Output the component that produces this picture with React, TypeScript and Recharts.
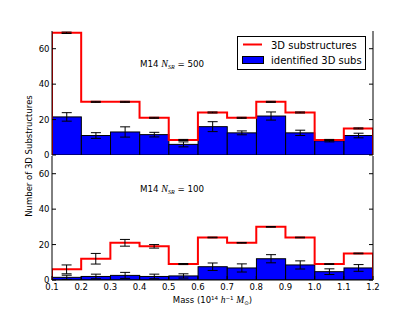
import React from "react";
import { ComposedChart, Bar, Line, ErrorBar, XAxis, YAxis, Legend } from "recharts";

// bins of width 0.1 between 0.1 and 1.2 (10^14 h^-1 Msun)
const binCenters = [0.15, 0.25, 0.35, 0.45, 0.55, 0.65, 0.75, 0.85, 0.95, 1.05, 1.15];
const binEdges = [0.1, 0.2, 0.3, 0.4, 0.5, 0.6, 0.7, 0.8, 0.9, 1.0, 1.1, 1.2];
const yTicks = [0, 20, 40, 60];

// N_SR = 500 panel
const subs500 = [69, 30, 30, 21, 8.5, 24, 21, 30, 24, 8.5, 15];
const subs500Err = [0.4, 0.3, 0.3, 0.3, 0.3, 0.3, 0.3, 0.3, 0.3, 0.3, 0.3];
const ident500 = [21.5, 11, 13, 11.5, 6, 16, 12.5, 22, 12.5, 8, 11];
const ident500Err = [2.4, 1.6, 2.9, 1.3, 1.4, 2.8, 1.1, 2.3, 1.5, 0.6, 1.3];

// N_SR = 100 panel
const subs100 = [6, 12, 21, 19, 9, 24, 21, 30, 24, 9, 15];
const subs100Err = [2.5, 3, 1.9, 1, 0.3, 0.2, 0.2, 0.2, 0.2, 0.2, 0.2];
const ident100 = [1.5, 2, 2.6, 2, 2.3, 7.5, 6.8, 12, 8.5, 4.7, 6.8];
const ident100Err = [1.2, 1.3, 1.7, 1.3, 1.2, 2.1, 2.3, 2.3, 2.3, 1.6, 1.9];

const seriesNames = ["3D substructures", "identified 3D subs"];

const FONT = "DejaVu Sans";
const TICK = 4;
const PLOT_W = 321;
const barW = PLOT_W / 11;

const rowsFor = (subs: number[], subsErr: number[], ident: number[], identErr: number[]) =>
  binCenters.map((x, i) => ({ x, subs: subs[i], subsErr: subsErr[i], ident: ident[i], identErr: identErr[i] }));

const stepFor = (subs: number[]) => [
  { x: binEdges[0], y: 0 },
  ...subs.map((v, i) => ({ x: binEdges[i], y: v })),
  { x: binEdges[binEdges.length - 1], y: subs[subs.length - 1] },
  { x: binEdges[binEdges.length - 1], y: 0 },
];

// full-bin-width bar, centred on the bin centre
const BinBar = (p: any) => {
  const cx = p.x + p.width / 2;
  return <rect x={cx - barW / 2} y={p.y} width={barW} height={p.height} fill="#0000ff" stroke="#000" strokeWidth={1} />;
};

const BottomTick = (label: boolean) => (p: any) => (
  <g>
    <line x1={p.x} x2={p.x} y1={p.y} y2={p.y - TICK} stroke="#000" />
    {label && (
      <text x={p.x} y={p.y + 10} textAnchor="middle" fontSize={8.5} fontFamily={FONT} fill="#000">
        {Number(p.payload.value).toFixed(1)}
      </text>
    )}
  </g>
);
const TopTick = (p: any) => <line x1={p.x} x2={p.x} y1={p.y} y2={p.y + TICK} stroke="#000" />;
const LeftTick = (p: any) => (
  <g>
    <line x1={p.x} x2={p.x + TICK} y1={p.y} y2={p.y} stroke="#000" />
    <text x={p.x - 2.5} y={p.y + 3} textAnchor="end" fontSize={8.5} fontFamily={FONT} fill="#000">
      {p.payload.value}
    </text>
  </g>
);
const RightTick = (p: any) => <line x1={p.x} x2={p.x - TICK} y1={p.y} y2={p.y} stroke="#000" />;

const LegendBox = () => (
  <svg width={129} height={34} style={{ display: "block" }}>
    <rect x={0.5} y={0.5} width={128} height={33} fill="#fff" stroke="#000" />
    <line x1={6} x2={25} y1={8.5} y2={8.5} stroke="#ff0000" strokeWidth={2} />
    <rect x={5.5} y={20.5} width={21} height={7} fill="#0000ff" stroke="#000" />
    <text x={34} y={12.5} fontSize={10} fontFamily={FONT} fill="#000">{seriesNames[0]}</text>
    <text x={34} y={28} fontSize={10} fontFamily={FONT} fill="#000">{seriesNames[1]}</text>
  </svg>
);

function Panel({ rows, step, top, height, margin, bottomLabels, legend }: any) {
  return (
    <div style={{ position: "absolute", left: 0, top }}>
      <ComposedChart width={415} height={height} data={rows} margin={margin}>
        <XAxis
          dataKey="x"
          type="number"
          domain={[0.1, 1.2]}
          ticks={binEdges}
          interval={0}
          allowDataOverflow
          height={bottomLabels ? 32 : 0}
          tickSize={0}
          tickMargin={0}
          tickLine={false}
          axisLine={{ stroke: "#000" }}
          tick={BottomTick(bottomLabels)}
        />
        <XAxis
          xAxisId="t"
          orientation="top"
          dataKey="x"
          type="number"
          domain={[0.1, 1.2]}
          ticks={binEdges}
          interval={0}
          allowDataOverflow
          height={0}
          tickSize={0}
          tickMargin={0}
          tickLine={false}
          axisLine={{ stroke: "#000" }}
          tick={TopTick}
        />
        <YAxis
          type="number"
          domain={[0, 70]}
          ticks={yTicks}
          interval={0}
          allowDataOverflow
          width={30}
          tickSize={0}
          tickMargin={0}
          tickLine={false}
          axisLine={{ stroke: "#000" }}
          tick={LeftTick}
        />
        <YAxis
          yAxisId="r"
          orientation="right"
          type="number"
          domain={[0, 70]}
          ticks={yTicks}
          interval={0}
          allowDataOverflow
          width={2}
          tickSize={0}
          tickMargin={0}
          tickLine={false}
          axisLine={{ stroke: "#000" }}
          tick={RightTick}
        />
        <Bar dataKey="ident" name={seriesNames[1]} fill="#0000ff" shape={BinBar} isAnimationActive={false}>
          <ErrorBar dataKey="identErr" width={5} stroke="#000" strokeWidth={1} />
        </Bar>
        <Line data={step} dataKey="y" name={seriesNames[0]} type="stepAfter" stroke="#ff0000" strokeWidth={2} dot={false} isAnimationActive={false} />
        <Line xAxisId="t" yAxisId="r" dataKey="subs" stroke="none" dot={false} legendType="none" isAnimationActive={false}>
          <ErrorBar dataKey="subsErr" width={5} stroke="#000" strokeWidth={1} />
        </Line>
        {legend && (
          <Legend
            layout="vertical"
            align="center"
            verticalAlign="middle"
            content={LegendBox}
            wrapperStyle={{ position: "absolute", left: 237, top: 36, width: 129, height: 34 }}
          />
        )}
      </ComposedChart>
    </div>
  );
}

export default function App() {
  return (
    <div style={{ position: "absolute", left: 0, top: 0, width: 415, height: 312, background: "#fff", fontFamily: FONT }}>
      <Panel
        rows={rowsFor(subs500, subs500Err, ident500, ident500Err)}
        step={stepFor(subs500)}
        top={0}
        height={165}
        margin={{ top: 31, right: 40, bottom: 10, left: 22 }}
        bottomLabels={false}
        legend
      />
      <Panel
        rows={rowsFor(subs100, subs100Err, ident100, ident100Err)}
        step={stepFor(subs100)}
        top={156}
        height={156}
        margin={{ top: 0, right: 40, bottom: 0, left: 22 }}
        bottomLabels
        legend={false}
      />
      <svg width={415} height={312} style={{ position: "absolute", left: 0, top: 0, pointerEvents: "none" }}>
        <text x={140} y={67} fontSize={8.7} fontFamily={FONT} fill="#000">
          M14 <tspan fontFamily="Liberation Serif" fontStyle="italic" fontSize={10}>N</tspan>
          <tspan fontFamily="Liberation Serif" fontStyle="italic" fontSize={6} dy={2}>SR</tspan>
          <tspan dy={-2}> = 500</tspan>
        </text>
        <text x={140} y={191.5} fontSize={8.7} fontFamily={FONT} fill="#000">
          M14 <tspan fontFamily="Liberation Serif" fontStyle="italic" fontSize={10}>N</tspan>
          <tspan fontFamily="Liberation Serif" fontStyle="italic" fontSize={6} dy={2}>SR</tspan>
          <tspan dy={-2}> = 100</tspan>
        </text>
        <text transform="translate(32,156) rotate(-90)" textAnchor="middle" fontSize={8.5} fontFamily={FONT} fill="#000">
          Number of 3D Substructures
        </text>
        <text x={212.5} y={303} textAnchor="middle" fontSize={8.5} fontFamily={FONT} fill="#000">
          Mass (10<tspan fontSize={5.5} dy={-3.5}>14</tspan>
          <tspan dy={3.5}> </tspan>
          <tspan fontFamily="Liberation Serif" fontStyle="italic" fontSize={9.5}>h</tspan>
          <tspan fontSize={5.5} dy={-3.5}>−1</tspan>
          <tspan dy={3.5}> </tspan>
          <tspan fontFamily="Liberation Serif" fontStyle="italic" fontSize={9.5}>M</tspan>
          <tspan fontSize={5.5} dy={2}>⊙</tspan>
          <tspan dy={-2}>)</tspan>
        </text>
      </svg>
    </div>
  );
}
